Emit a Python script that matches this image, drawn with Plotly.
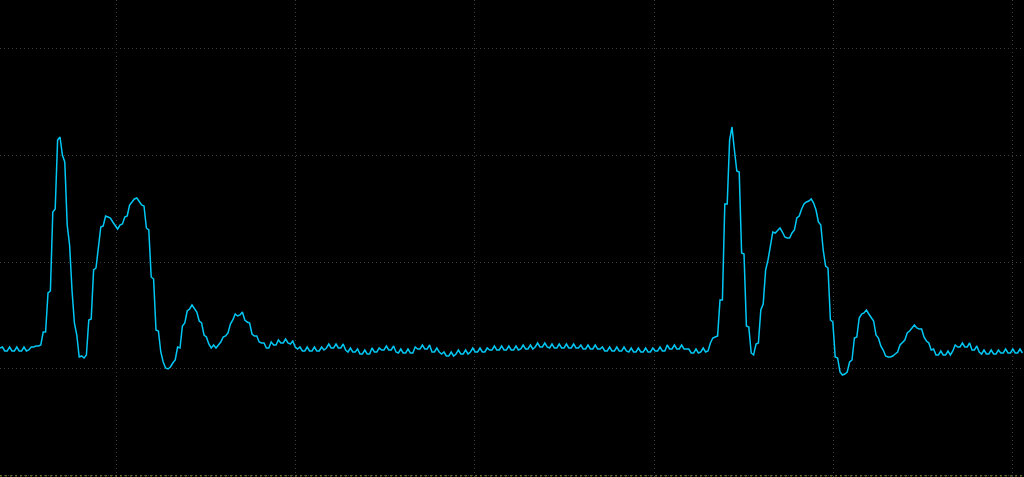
import numpy as np
import plotly.graph_objects as go

# ECG trace, raw ADC counts (one sample every 1/FS s)
ADC_GAIN = 213.8          # counts per mV
FS = 373.33               # samples per second
START_TIME = 0.07         # s, time of first sample

ecg_adc = [
    21, 22, 18, 18, 22, 18, 18, 22, 18, 18,
    22, 18, 19, 22, 22, 23, 23, 24, 37, 37,
    76, 78, 157, 160, 229, 232, 214, 207, 144, 124,
    79, 46, 34, 12, 13, 11, 14, 49, 50, 99,
    101, 124, 142, 143, 153, 152, 151, 147, 143, 140,
    144, 145, 152, 153, 164, 167, 170, 171, 167, 164,
    163, 141, 139, 92, 90, 39, 38, 17, 7, 1,
    0, 2, 6, 9, 22, 21, 43, 46, 58, 60,
    64, 61, 57, 48, 46, 34, 32, 25, 21, 24,
    21, 24, 27, 32, 33, 36, 45, 49, 55, 53,
    54, 57, 49, 47, 46, 35, 33, 33, 27, 26,
    26, 21, 21, 27, 24, 24, 29, 26, 26, 30,
    26, 25, 28, 22, 20, 22, 18, 18, 22, 18,
    18, 22, 18, 18, 22, 19, 21, 25, 21, 21,
    25, 21, 21, 25, 19, 17, 21, 17, 17, 20,
    15, 15, 19, 15, 15, 21, 17, 17, 21, 19,
    19, 23, 19, 19, 23, 17, 16, 20, 16, 16,
    20, 16, 16, 22, 20, 20, 24, 20, 20, 24,
    17, 17, 21, 17, 15, 17, 13, 13, 17, 13,
    15, 19, 15, 15, 19, 15, 17, 21, 17, 17,
    21, 17, 17, 21, 19, 19, 23, 19, 19, 23,
    19, 19, 23, 19, 19, 23, 19, 20, 24, 20,
    20, 24, 20, 22, 26, 22, 22, 26, 22, 21,
    25, 21, 21, 25, 21, 21, 25, 21, 21, 25,
    21, 21, 24, 20, 20, 24, 20, 20, 24, 20,
    20, 22, 18, 18, 22, 18, 18, 22, 18, 18,
    22, 18, 17, 21, 17, 17, 21, 17, 17, 21,
    17, 17, 21, 18, 18, 22, 18, 18, 24, 20,
    20, 24, 20, 20, 24, 20, 20, 20, 16, 16,
    20, 16, 17, 21, 17, 18, 26, 31, 32, 33,
    69, 69, 165, 165, 229, 242, 219, 198, 197, 116,
    115, 43, 42, 16, 14, 25, 26, 59, 65, 99,
    109, 124, 137, 136, 139, 141, 137, 132, 131, 131,
    136, 139, 151, 153, 160, 165, 167, 168, 170, 166,
    159, 147, 144, 119, 103, 101, 49, 47, 12, 11,
    -3, -6, -5, -3, 7, 9, 31, 32, 51, 55,
    56, 59, 55, 51, 48, 34, 31, 23, 19, 13,
    12, 12, 13, 15, 17, 24, 27, 29, 36, 38,
    41, 44, 41, 40, 40, 32, 28, 26, 19, 20,
    14, 14, 18, 14, 14, 18, 14, 18, 24, 22,
    22, 26, 22, 22, 26, 19, 19, 23, 17, 15,
    19, 15, 15, 19, 15, 15, 19, 16, 16, 20,
    16, 16, 20, 16, 16, 20, 16,
]

t = START_TIME + np.arange(len(ecg_adc)) / FS
mv = np.array(ecg_adc) / ADC_GAIN

fig = go.Figure()
fig.add_trace(go.Scatter(
    x=t, y=mv, mode="lines",
    line=dict(color="#00c8f5", width=1.5),
    hoverinfo="skip", showlegend=False,
))

# bottom reference line (axis baseline)
fig.add_shape(type="line", xref="paper", x0=0, x1=1, yref="y", y0=-0.5, y1=-0.5,
              line=dict(color="#8c9a2c", width=1, dash="2px,3px"), layer="above")

fig.update_layout(
    width=1024, height=477,
    margin=dict(l=0, r=0, t=0, b=0, pad=0),
    paper_bgcolor="#000000", plot_bgcolor="#000000",
    showlegend=False,
)
fig.update_xaxes(
    range=[START_TIME, START_TIME + 1024 / 896.0],
    tick0=0.0, dtick=0.2,
    showgrid=True, gridcolor="#3c3c3c", gridwidth=1, griddash="1px,3px",
    zeroline=False, showline=False, showticklabels=False, ticks="",
)
fig.update_yaxes(
    range=[-0.5052, 1.7259],
    tick0=0.0, dtick=0.5,
    showgrid=True, gridcolor="#3c3c3c", gridwidth=1, griddash="1px,3px",
    zeroline=False, showline=False, showticklabels=False, ticks="",
)

fig.write_html("out.html", config={"displayModeBar": False},
               post_script="document.body.style.margin='0';document.body.style.overflow='hidden';")
